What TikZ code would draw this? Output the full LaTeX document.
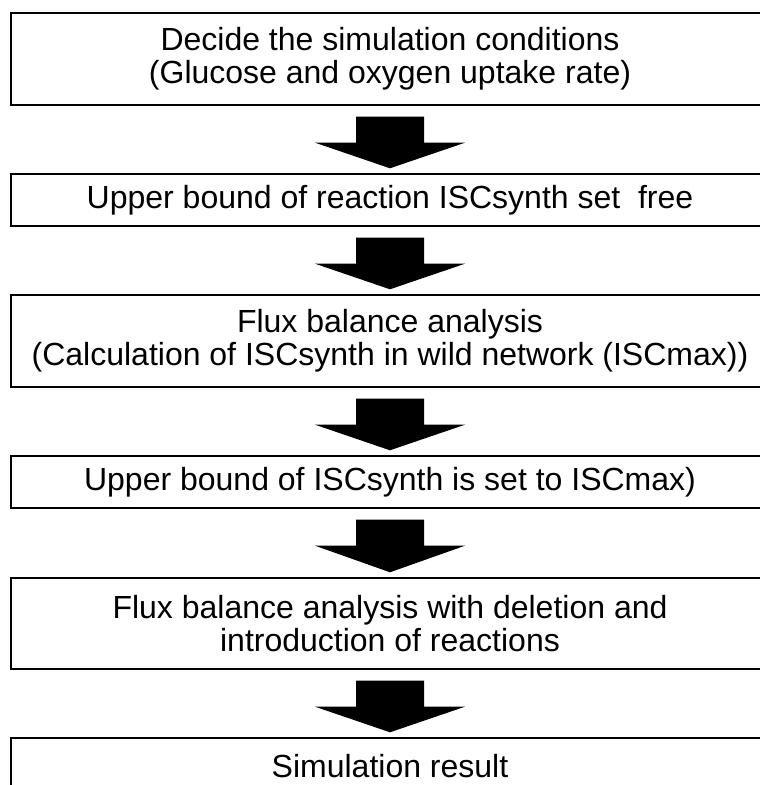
\documentclass[tikz,border=0pt]{standalone}
\usepackage{fontspec}
\setmainfont{Liberation Sans}
\usetikzlibrary{calc}
% thick block arrow hanging from one stage box down to the next
\def\flowarrow(#1)(#2){\fill[black] ($(#1.south)+(-34,-11)$) -- ($(#1.south)+(34,-11)$) -- ($(#1.south)+(34,-37)$) -- ($(#1.south)+(75,-37)$) -- ($(#2.north)+(0,5)$) -- ($(#1.south)+(-75,-37)$) -- ($(#1.south)+(-34,-37)$) -- cycle;}

\begin{document}
\begin{tikzpicture}[x=1pt, y=1pt,
		stage/.style={draw=black, line width=1.4pt, minimum width=758pt, inner sep=0pt, align=center, font=\fontsize{32}{33}\selectfont}]
		%%%%% START %%%%%
		
		\useasboundingbox (0, 0) rectangle (760, 785);
		\clip (0, 0) rectangle (760, 785);
		
		\node[stage, minimum height=92pt] (cond) at (390, 726) {Decide the simulation conditions\\(Glucose and oxygen uptake rate)};
		\node[stage, minimum height=52pt] (free) at (390, 585) {Upper bound of reaction ISCsynth set\ \ free};
		\node[stage, minimum height=92pt] (fba) at (390, 444) {Flux balance analysis\\(Calculation of ISCsynth in wild network (ISCmax))};
		\node[stage, minimum height=52pt] (bound) at (390, 303) {Upper bound of ISCsynth is set to ISCmax)};
		\node[stage, minimum height=91pt] (fbadel) at (390, 161.5) {Flux balance analysis with deletion and\\introduction of reactions};
		% last box runs off the bottom edge
		\node[stage, minimum height=56pt] (result) at (390, 19) {Simulation result};
		
		\flowarrow(cond)(free)
		\flowarrow(free)(fba)
		\flowarrow(fba)(bound)
		\flowarrow(bound)(fbadel)
		\flowarrow(fbadel)(result)
		
		%%%%% END %%%%%
\end{tikzpicture}
\end{document}
